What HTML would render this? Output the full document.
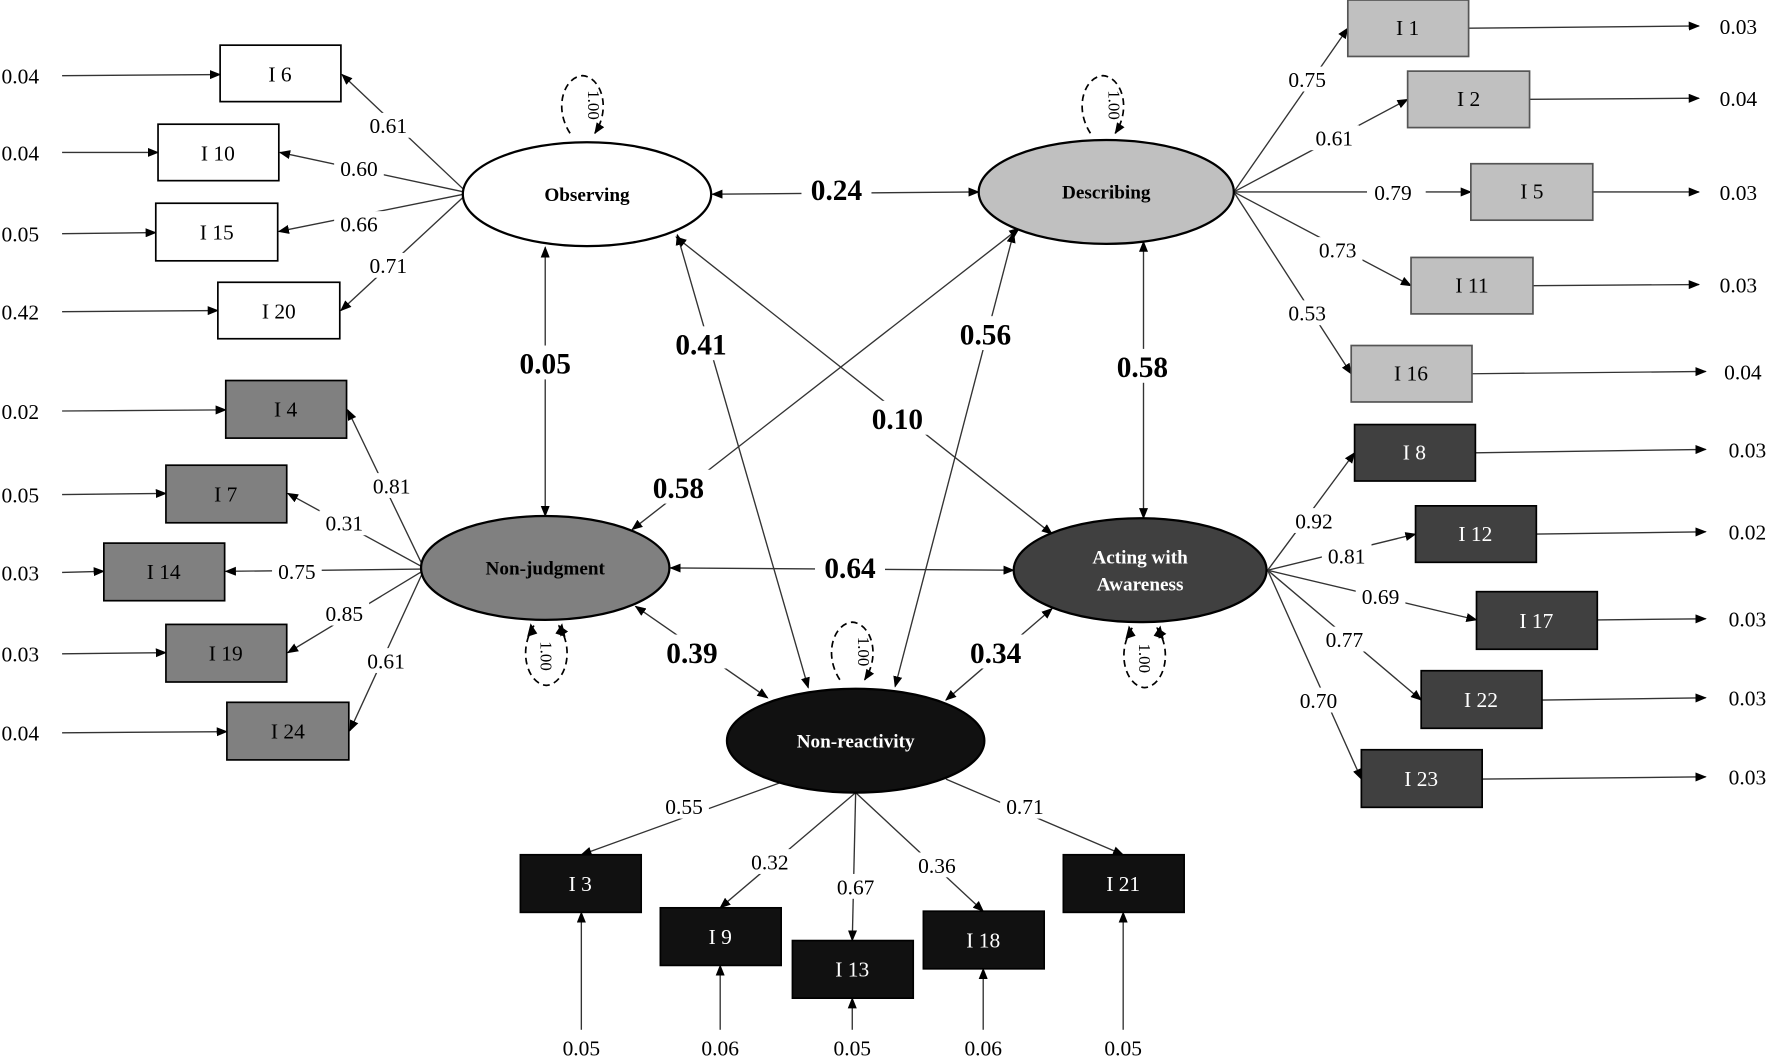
<!DOCTYPE html>
<html><head><meta charset="utf-8"><style>
html,body{margin:0;padding:0;background:#fff;}
svg{display:block;}
text{font-family:"Liberation Serif",serif;}
</style></head><body>
<svg width="1770" height="1058" viewBox="0 0 1568 937" preserveAspectRatio="none" xmlns="http://www.w3.org/2000/svg">
<defs>
<marker id="a" markerWidth="10" markerHeight="8" refX="9" refY="4" orient="auto" markerUnits="userSpaceOnUse"><path d="M0,0 L10,4 L0,8 z" fill="#000"/></marker>
<marker id="s" markerWidth="10" markerHeight="8" refX="1" refY="4" orient="auto" markerUnits="userSpaceOnUse"><path d="M10,0 L0,4 L10,8 z" fill="#000"/></marker>
</defs>
<rect width="1568" height="937" fill="#fff"/>
<g stroke="#333" stroke-width="1.2" fill="none" marker-end="url(#a)">
<!-- Observing loadings -->
<line x1="411" y1="168" x2="303" y2="66"/>
<line x1="411" y1="170" x2="248" y2="135"/>
<line x1="411" y1="172" x2="247" y2="205"/>
<line x1="411" y1="174" x2="302" y2="275"/>
<!-- Non-judgment -->
<line x1="374" y1="500" x2="308" y2="363"/>
<line x1="374" y1="502" x2="255" y2="437"/>
<line x1="374" y1="504" x2="200" y2="506"/>
<line x1="374" y1="506" x2="255" y2="578"/>
<line x1="374" y1="508" x2="310" y2="647"/>
<!-- Describing -->
<line x1="1093" y1="170" x2="1194" y2="25"/>
<line x1="1093" y1="170" x2="1247" y2="88"/>
<line x1="1093" y1="170" x2="1303" y2="170"/>
<line x1="1093" y1="170" x2="1250" y2="253"/>
<line x1="1093" y1="170" x2="1197" y2="331"/>
<!-- Acting -->
<line x1="1123" y1="505" x2="1200" y2="401"/>
<line x1="1123" y1="505" x2="1254" y2="473"/>
<line x1="1123" y1="505" x2="1308" y2="549"/>
<line x1="1123" y1="505" x2="1259" y2="620"/>
<line x1="1123" y1="505" x2="1206" y2="690"/>
<!-- Non-reactivity -->
<line x1="700" y1="690" x2="515" y2="757"/>
<line x1="758" y1="702" x2="638" y2="804"/>
<line x1="758" y1="702" x2="755" y2="833"/>
<line x1="758" y1="702" x2="871" y2="807"/>
<line x1="838" y1="690" x2="995" y2="757"/>
<!-- errors left -->
<line x1="55" y1="67" x2="195" y2="66"/>
<line x1="55" y1="135" x2="140" y2="135"/>
<line x1="55" y1="207" x2="138" y2="206"/>
<line x1="55" y1="276" x2="193" y2="275"/>
<line x1="55" y1="364" x2="200" y2="363"/>
<line x1="55" y1="438" x2="147" y2="437"/>
<line x1="55" y1="507" x2="92" y2="506"/>
<line x1="55" y1="579" x2="147" y2="578"/>
<line x1="55" y1="649" x2="201" y2="648"/>
<!-- errors right -->
<line x1="1301" y1="25" x2="1505" y2="23"/>
<line x1="1355" y1="88" x2="1505" y2="87"/>
<line x1="1411" y1="170" x2="1505" y2="170"/>
<line x1="1358" y1="253" x2="1505" y2="252"/>
<line x1="1304" y1="331" x2="1511" y2="329"/>
<line x1="1307" y1="401" x2="1511" y2="398"/>
<line x1="1361" y1="473" x2="1511" y2="471"/>
<line x1="1415" y1="549" x2="1511" y2="548"/>
<line x1="1366" y1="620" x2="1511" y2="618"/>
<line x1="1313" y1="690" x2="1511" y2="688"/>
<!-- errors bottom -->
<line x1="515" y1="912" x2="515" y2="808"/>
<line x1="638" y1="912" x2="638" y2="855"/>
<line x1="755" y1="912" x2="755" y2="884"/>
<line x1="871" y1="912" x2="871" y2="858"/>
<line x1="995" y1="912" x2="995" y2="808"/>
</g>
<!-- structural double-headed -->
<g stroke="#333" stroke-width="1.2" fill="none" marker-end="url(#a)" marker-start="url(#s)">
<line x1="631" y1="172" x2="867" y2="170"/>
<line x1="483" y1="219" x2="483" y2="457"/>
<line x1="600" y1="208" x2="716" y2="609"/>
<line x1="599" y1="210" x2="932" y2="473"/>
<line x1="903" y1="202" x2="560" y2="469"/>
<line x1="898" y1="206" x2="793" y2="608"/>
<line x1="1013" y1="214" x2="1013" y2="459"/>
<line x1="594" y1="503" x2="898" y2="505"/>
<line x1="563" y1="537" x2="680" y2="618"/>
<line x1="932" y1="539" x2="838" y2="620"/>
</g>
<!-- variance loops -->
<g stroke="#000" stroke-width="1.5" fill="none" stroke-dasharray="6,4" marker-end="url(#a)">
<path d="M505,118 C490,95 500,68 516,67 C532,68 542,95 527,118"/>
<path d="M966,118 C951,95 961,68 977,67 C993,68 1003,95 988,118"/>
<path d="M744,602 C729,579 739,552 755,551 C771,552 781,579 766,602"/>
<path d="M473,554 C458,577 468,606 484,607 C500,606 510,577 495,554" marker-end="" />
<path d="M1003,556 C988,579 998,608 1014,609 C1030,608 1040,579 1025,556" marker-end=""/>
</g>
<g fill="#000">
<path d="M470,552 l-3,12 l9,-3 z"/><path d="M498,552 l3,12 l-9,-3 z"/>
<path d="M1000,554 l-3,12 l9,-3 z"/><path d="M1028,554 l3,12 l-9,-3 z"/>
</g>
<g font-size="15">
<text transform="translate(521,93) rotate(90)" text-anchor="middle">1.00</text>
<text transform="translate(982,93) rotate(90)" text-anchor="middle">1.00</text>
<text transform="translate(760,577) rotate(90)" text-anchor="middle">1.00</text>
<text transform="translate(479,581) rotate(90)" text-anchor="middle">1.00</text>
<text transform="translate(1009,583) rotate(90)" text-anchor="middle">1.00</text>
</g>
<!-- ellipses -->
<g stroke="#000" stroke-width="2">
<ellipse cx="520" cy="172" rx="110" ry="46" fill="#fff"/>
<ellipse cx="980" cy="170" rx="113" ry="46" fill="#c0c0c0"/>
<ellipse cx="483" cy="503" rx="110" ry="46" fill="#808080"/>
<ellipse cx="1010" cy="505" rx="112" ry="46" fill="#404040"/>
<ellipse cx="758" cy="656" rx="114" ry="46" fill="#111"/>
</g>
<g font-size="17" font-weight="bold" text-anchor="middle">
<text x="520" y="178">Observing</text>
<text x="980" y="176">Describing</text>
<text x="483" y="509">Non-judgment</text>
<text x="1010" y="499" fill="#fff">Acting with</text>
<text x="1010" y="523" fill="#fff">Awareness</text>
<text x="758" y="662" fill="#fff">Non-reactivity</text>
</g>
<!-- boxes -->
<g stroke="#000" stroke-width="1.5">
<rect x="195" y="40" width="107" height="50" fill="#fff"/>
<rect x="140" y="110" width="107" height="50" fill="#fff"/>
<rect x="138" y="180" width="108" height="51" fill="#fff"/>
<rect x="193" y="250" width="108" height="50" fill="#fff"/>
<rect x="200" y="337" width="107" height="51" fill="#808080"/>
<rect x="147" y="412" width="107" height="51" fill="#808080"/>
<rect x="92" y="481" width="107" height="51" fill="#808080"/>
<rect x="147" y="553" width="107" height="51" fill="#808080"/>
<rect x="201" y="622" width="108" height="51" fill="#808080"/>
<rect x="1194" y="0" width="107" height="50" fill="#c0c0c0" stroke="#555"/>
<rect x="1247" y="63" width="108" height="50" fill="#c0c0c0" stroke="#555"/>
<rect x="1303" y="145" width="108" height="50" fill="#c0c0c0" stroke="#555"/>
<rect x="1250" y="228" width="108" height="50" fill="#c0c0c0" stroke="#555"/>
<rect x="1197" y="306" width="107" height="50" fill="#c0c0c0" stroke="#555"/>
<rect x="1200" y="376" width="107" height="50" fill="#404040"/>
<rect x="1254" y="448" width="107" height="50" fill="#404040"/>
<rect x="1308" y="524" width="107" height="51" fill="#404040"/>
<rect x="1259" y="594" width="107" height="51" fill="#404040"/>
<rect x="1206" y="664" width="107" height="51" fill="#404040"/>
<rect x="461" y="757" width="107" height="51" fill="#111"/>
<rect x="585" y="804" width="107" height="51" fill="#111"/>
<rect x="702" y="833" width="107" height="51" fill="#111"/>
<rect x="818" y="807" width="107" height="51" fill="#111"/>
<rect x="942" y="757" width="107" height="51" fill="#111"/>
</g>
<g font-size="19" text-anchor="middle">
<text x="248" y="72">I 6</text><text x="193" y="142">I 10</text><text x="192" y="212">I 15</text><text x="247" y="282">I 20</text>
<text x="253" y="369">I 4</text><text x="200" y="444">I 7</text><text x="145" y="513">I 14</text><text x="200" y="585">I 19</text><text x="255" y="654">I 24</text>
<text x="1247" y="31">I 1</text><text x="1301" y="94">I 2</text><text x="1357" y="176">I 5</text><text x="1304" y="259">I 11</text><text x="1250" y="337">I 16</text>
<g fill="#fff">
<text x="1253" y="407">I 8</text><text x="1307" y="479">I 12</text><text x="1361" y="556">I 17</text><text x="1312" y="626">I 22</text><text x="1259" y="696">I 23</text>
<text x="514" y="789">I 3</text><text x="638" y="836">I 9</text><text x="755" y="865">I 13</text><text x="871" y="839">I 18</text><text x="995" y="789">I 21</text>
</g>
</g>
<!-- loading labels -->
<g font-size="19" text-anchor="middle">
<g fill="#fff"><rect x="322" y="100" width="44" height="22"/><rect x="296" y="138" width="44" height="22"/><rect x="296" y="187" width="44" height="22"/><rect x="322" y="224" width="44" height="22"/>
<rect x="325" y="419" width="44" height="22"/><rect x="283" y="452" width="44" height="22"/><rect x="241" y="495" width="44" height="22"/><rect x="283" y="532" width="44" height="22"/><rect x="320" y="574" width="44" height="22"/>
<rect x="1136" y="59" width="44" height="22"/><rect x="1160" y="111" width="44" height="22"/><rect x="1211" y="159" width="52" height="22"/><rect x="1163" y="210" width="44" height="22"/><rect x="1136" y="266" width="44" height="22"/>
<rect x="1142" y="450" width="44" height="22"/><rect x="1171" y="481" width="44" height="22"/><rect x="1201" y="517" width="44" height="22"/><rect x="1169" y="555" width="44" height="22"/><rect x="1146" y="609" width="44" height="22"/>
<rect x="584" y="703" width="44" height="22"/><rect x="660" y="752" width="44" height="22"/><rect x="736" y="774" width="44" height="22"/><rect x="808" y="755" width="44" height="22"/><rect x="886" y="703" width="44" height="22"/></g>
<text x="344" y="118">0.61</text><text x="318" y="156">0.60</text><text x="318" y="205">0.66</text><text x="344" y="242">0.71</text>
<text x="347" y="437">0.81</text><text x="305" y="470">0.31</text><text x="263" y="513">0.75</text><text x="305" y="550">0.85</text><text x="342" y="592">0.61</text>
<text x="1158" y="77">0.75</text><text x="1182" y="129">0.61</text><text x="1234" y="177">0.79</text><text x="1185" y="228">0.73</text><text x="1158" y="284">0.53</text>
<text x="1164" y="468">0.92</text><text x="1193" y="499">0.81</text><text x="1223" y="535">0.69</text><text x="1191" y="573">0.77</text><text x="1168" y="627">0.70</text>
<text x="606" y="721">0.55</text><text x="682" y="770">0.32</text><text x="758" y="792">0.67</text><text x="830" y="773">0.36</text><text x="908" y="721">0.71</text>
</g>
<!-- error labels -->
<g font-size="19" text-anchor="middle">
<text x="18" y="74">0.04</text><text x="18" y="142">0.04</text><text x="18" y="214">0.05</text><text x="18" y="283">0.42</text>
<text x="18" y="371">0.02</text><text x="18" y="445">0.05</text><text x="18" y="514">0.03</text><text x="18" y="586">0.03</text><text x="18" y="656">0.04</text>
<text x="1540" y="30">0.03</text><text x="1540" y="94">0.04</text><text x="1540" y="177">0.03</text><text x="1540" y="259">0.03</text><text x="1544" y="336">0.04</text>
<text x="1548" y="405">0.03</text><text x="1548" y="478">0.02</text><text x="1548" y="555">0.03</text><text x="1548" y="625">0.03</text><text x="1548" y="695">0.03</text>
<text x="515" y="935">0.05</text><text x="638" y="935">0.06</text><text x="755" y="935">0.05</text><text x="871" y="935">0.06</text><text x="995" y="935">0.05</text>
</g>
<!-- structural labels -->
<g font-size="26" font-weight="bold" text-anchor="middle">
<g fill="#fff"><rect x="710" y="152" width="62" height="30"/><rect x="452" y="306" width="62" height="30"/><rect x="590" y="289" width="62" height="30"/><rect x="764" y="355" width="62" height="30"/><rect x="570" y="416" width="62" height="30"/><rect x="842" y="280" width="62" height="30"/><rect x="981" y="309" width="62" height="30"/><rect x="722" y="487" width="62" height="30"/><rect x="582" y="562" width="62" height="30"/><rect x="851" y="562" width="62" height="30"/></g>
<text x="741" y="177">0.24</text><text x="483" y="331">0.05</text><text x="621" y="314">0.41</text><text x="795" y="380">0.10</text><text x="601" y="441">0.58</text>
<text x="873" y="305">0.56</text><text x="1012" y="334">0.58</text><text x="753" y="512">0.64</text><text x="613" y="587">0.39</text><text x="882" y="587">0.34</text>
</g>
</svg>
</body></html>
